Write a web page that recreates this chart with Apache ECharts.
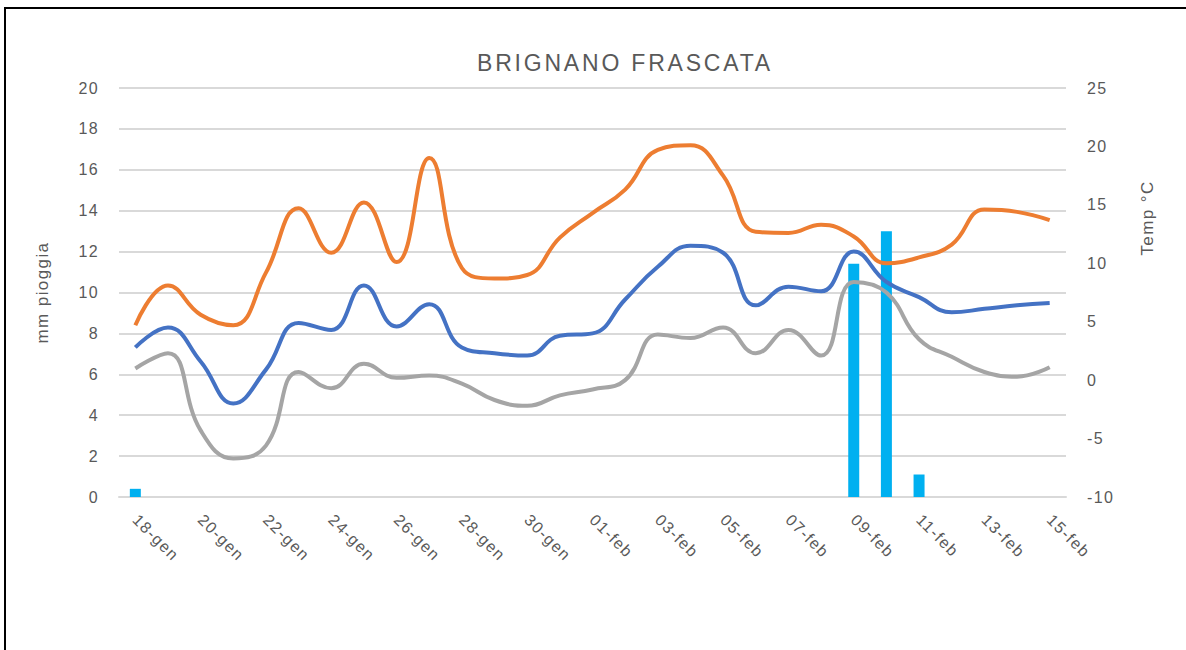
<!DOCTYPE html>
<html>
<head>
<meta charset="utf-8">
<script src="https://cdn.jsdelivr.net/npm/echarts@6/dist/echarts.min.js"></script>
<style>
html,body{margin:0;padding:0;background:#fff;}
#chart{width:1186px;height:650px;}
#chart svg text{letter-spacing:1.4px;}
</style>
</head>
<body>
<div id="chart"></div>
<script>
const categories = ['18-gen','19-gen','20-gen','21-gen','22-gen','23-gen','24-gen','25-gen','26-gen','27-gen','28-gen','29-gen','30-gen','31-gen',
  '01-feb','02-feb','03-feb','04-feb','05-feb','06-feb','07-feb','08-feb','09-feb','10-feb','11-feb','12-feb','13-feb','14-feb','15-feb'];
const rain = [0.4,0,0,0,0,0,0,0,0,0,0,0,0,0,0,0,0,0,0,0,0,0,11.4,13.0,1.1,0,0,0,0];
const tMax = [4.7,8.1,5.6,4.7,9.2,14.7,10.9,15.2,10.1,19.0,9.6,8.7,9.0,12.2,14.3,16.3,19.7,20.1,17.5,12.7,12.6,13.3,12.3,10.0,10.5,11.6,14.6,14.4,13.7];
const tMean = [2.8,4.5,1.6,-2.0,0.9,4.9,4.3,8.1,4.6,6.5,2.8,2.3,2.1,3.8,4.0,6.9,9.7,11.5,10.9,6.4,8.0,7.6,11.0,8.4,7.1,5.8,6.1,6.4,6.6];
const tMin = [1.0,2.3,-4.3,-6.7,-5.6,0.7,-0.7,1.4,0.2,0.4,-0.3,-1.7,-2.2,-1.3,-0.8,0.0,3.9,3.6,4.5,2.3,4.3,2.1,8.4,7.5,3.5,2.0,0.7,0.3,1.1];
const titleText = 'BRIGNANO FRASCATA';
const leftName = 'mm pioggia';
const rightName = 'Temp °C';

const FONT = 'Liberation Sans';
const TXT = '#595959';
const chart = echarts.init(document.getElementById('chart'), null, { renderer: 'svg' });
const lineStyle = (c) => ({ type: 'line', yAxisIndex: 1, smooth: 0.45, symbol: 'none', lineStyle: { color: c, width: 4 }, itemStyle: { color: c }, z: 3 });
chart.setOption({
  animation: false,
  backgroundColor: '#fff',
  title: { text: titleText, left: 620, top: 46, textAlign: 'center', textStyle: { fontFamily: FONT, fontSize: 23, fontWeight: 'normal', color: TXT } },
  grid: { left: 119, right: 120, top: 88, bottom: 153 },
  xAxis: {
    type: 'category', data: categories, boundaryGap: true,
    axisLine: { lineStyle: { color: '#d9d9d9', width: 2 } },
    axisTick: { show: false },
    axisLabel: { interval: 1, rotate: -45, margin: 20, fontFamily: FONT, fontSize: 16, color: TXT }
  },
  yAxis: [
    { type: 'value', min: 0, max: 20, interval: 2, position: 'left',
      name: leftName, nameLocation: 'middle', nameGap: 68, nameTextStyle: { fontFamily: FONT, fontSize: 17, color: TXT },
      axisLine: { show: false }, axisTick: { show: false },
      axisLabel: { margin: 20, fontFamily: FONT, fontSize: 16, color: TXT },
      splitLine: { lineStyle: { color: '#d9d9d9', width: 2 } } },
    { type: 'value', min: -10, max: 25, interval: 5, position: 'right',
      axisLine: { show: false }, axisTick: { show: false },
      axisLabel: { margin: 21, fontFamily: FONT, fontSize: 16, color: TXT },
      splitLine: { show: false } }
  ],
  graphic: [
    { type: 'rect', shape: { x: 5, y: 8, width: 1400, height: 900 }, style: { fill: 'none', stroke: '#000', lineWidth: 2 }, silent: true, z: 100 },
    { type: 'text', x: 1147, y: 218, rotation: Math.PI / 2, style: { text: rightName, fontFamily: FONT, fontSize: 17, fill: TXT, align: 'center', verticalAlign: 'middle' } }
  ],
  series: [
    { type: 'bar', yAxisIndex: 0, data: rain, barWidth: 11, itemStyle: { color: '#00B0F0' }, z: 2 },
    Object.assign(lineStyle('#ED7D31'), { name: 'Max', data: tMax }),
    Object.assign(lineStyle('#4472C4'), { name: 'Media', data: tMean }),
    Object.assign(lineStyle('#A5A5A5'), { name: 'Min', data: tMin })
  ]
});
function spaceTitle() {
  document.querySelectorAll('#chart svg text').forEach(function (t) {
    if (t.textContent === titleText) t.style.letterSpacing = '2.8px';
  });
}
spaceTitle();
chart.on('finished', spaceTitle);
setTimeout(spaceTitle, 50);
</script>
</body>
</html>
